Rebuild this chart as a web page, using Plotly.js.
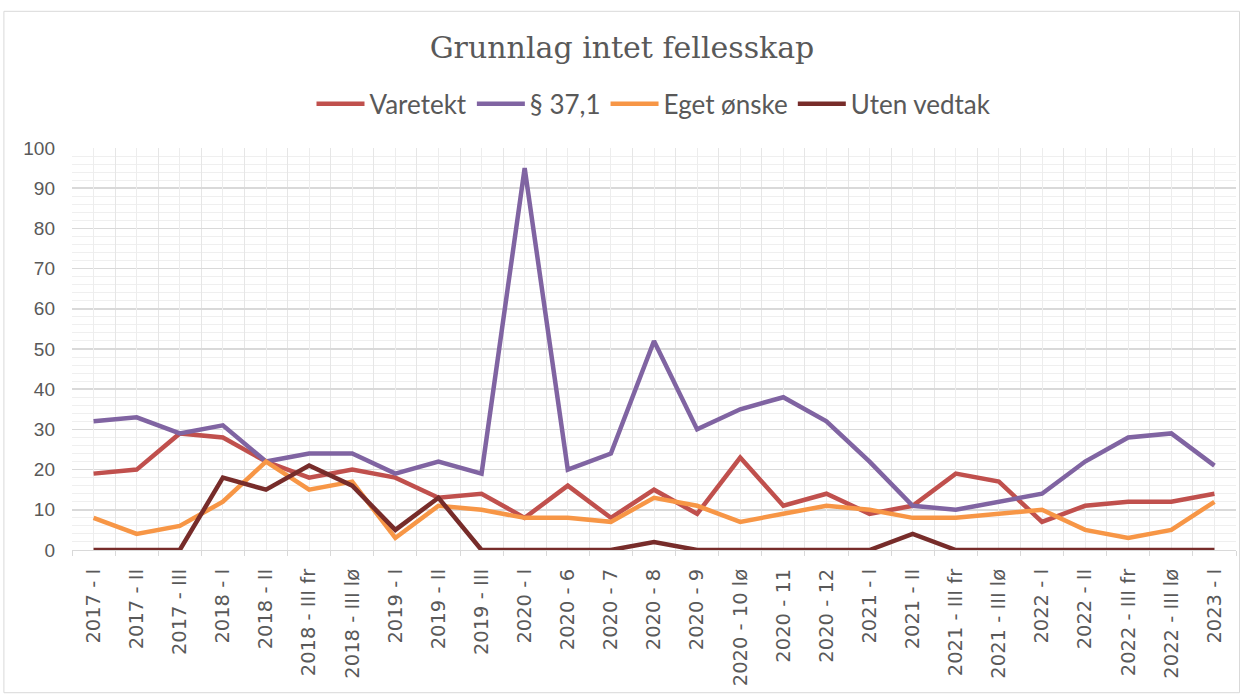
<!DOCTYPE html>
<html><head><meta charset="utf-8">
<script src="https://cdn.plot.ly/plotly-3.0.1.min.js"></script>
<style>html,body{margin:0;padding:0;background:#fff}#c{width:1244px;height:694px}</style>
</head><body><div id="c"></div>
<script>
const categories = ["2017 - I","2017 - II","2017 - III","2018 - I","2018 - II","2018 - III fr","2018 - III lø","2019 - I","2019 - II","2019 - III","2020 - I","2020 - 6","2020 - 7","2020 - 8","2020 - 9","2020 - 10 lø","2020 - 11","2020 - 12","2021 - I","2021 - II","2021 - III fr","2021 - III lø","2022 - I","2022 - II","2022 - III fr","2022 - III lø","2023 - I"];
const varetekt   = [19,20,29,28,22,18,20,18,13,14,8,16,8,15,9,23,11,14,9,11,19,17,7,11,12,12,14];
const paragraf371= [32,33,29,31,22,24,24,19,22,19,95,20,24,52,30,35,38,32,22,11,10,12,14,22,28,29,21];
const egetOnske  = [8,4,6,12,22,15,17,3,11,10,8,8,7,13,11,7,9,11,10,8,8,9,10,5,3,5,12];
const utenVedtak = [0,0,0,18,15,21,16,5,13,0,0,0,0,2,0,0,0,0,0,4,0,0,0,0,0,0,0];
const seriesNames = ["Varetekt","§ 37,1","Eget ønske","Uten vedtak"];
const colors = ["#C0504D","#8064A2","#F79646","#772C2A"];
const yTicks = [0,10,20,30,40,50,60,70,80,90,100];

const vals = [varetekt, paragraf371, egetOnske, utenVedtak];
const traces = vals.map((v,i)=>({
  x: categories, y: v, type:'scatter', mode:'lines', name: seriesNames[i],
  line:{color:colors[i], width:4.5}, xaxis:'x', yaxis:'y'
}));
// helper trace for center gridlines
traces.push({x:categories, y:categories.map(()=>null), xaxis:'x2', yaxis:'y', showlegend:false, hoverinfo:'skip', mode:'lines'});

const layout = {
  width:1244, height:694,
  margin:{l:72, r:8, t:148, b:144},
  paper_bgcolor:'#fff', plot_bgcolor:'#fff',
  title:{text:'Grunnlag intet fellesskap', x:0.5, xanchor:'center', y:0.932, yanchor:'middle',
    font:{family:'"DejaVu Serif", "Liberation Serif", serif', size:30, color:'#595959'}},
  showlegend:true,
  legend:{orientation:'h', x:0.5, xanchor:'center', y:1.11, yanchor:'middle',
    font:{family:'Lato, "Open Sans", sans-serif', size:26, color:'#595959'},
    itemwidth:48, tracegroupgap:0},
  xaxis:{type:'category', range:[-0.5,26.5], tickson:'boundaries', showgrid:true, gridcolor:'#E6E6E6', gridwidth:1,
    tickangle:-90, ticks:'outside', ticklen:5, tickcolor:'#D9D9D9', showline:true, linecolor:'#D9D9D9', linewidth:1,
    ticklabelstandoff:10,
    tickfont:{family:'"DejaVu Sans", sans-serif', size:19.5, color:'#595959'}, zeroline:false, fixedrange:true},
  xaxis2:{type:'category', overlaying:'x', range:[-0.5,26.5], showgrid:true, gridcolor:'#EDEDED', gridwidth:1,
    showticklabels:false, ticks:'', showline:false, zeroline:false, categoryarray:categories, categoryorder:'array'},
  yaxis:{range:[0,100], tickvals:yTicks, showgrid:true, gridcolor:'#D9D9D9', gridwidth:1.5, zeroline:false,
    showline:false, ticks:'', ticklabelstandoff:16,
    tickfont:{family:'"Liberation Sans", Arial, sans-serif', size:19, color:'#595959'},
    minor:{dtick:2, showgrid:true, gridcolor:'#EFEFEF', gridwidth:1, ticks:''}, fixedrange:true},
  shapes:[{type:'rect', xref:'paper', yref:'paper', x0:-0.0585, x1:1.003, y0:-0.355, y1:1.34,
    line:{color:'#D9D9D9', width:1}, fillcolor:'rgba(0,0,0,0)', layer:'below'}]
};
Plotly.newPlot('c', traces, layout, {staticPlot:true, displayModeBar:false});
</script></body></html>
